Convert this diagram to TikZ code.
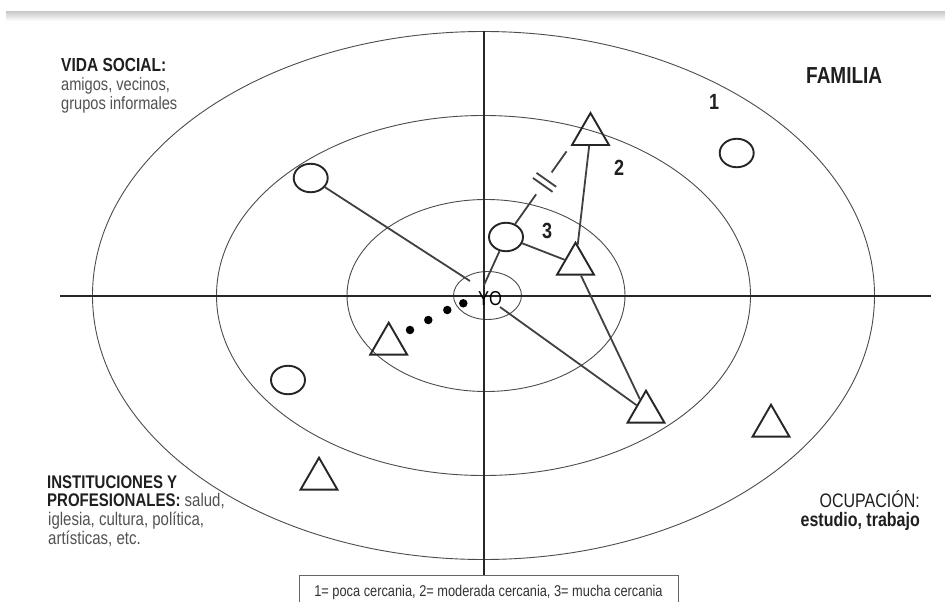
\documentclass[tikz,border=0pt]{standalone}
\usepackage{fontspec}
\usepackage{graphicx}
\setmainfont{Liberation Sans}
\usetikzlibrary{shapes.geometric,calc}
\newcommand\tall[1]{\scalebox{1}[1.22]{#1}}
\newcommand\fsz[1]{\fontsize{#1}{#1}\selectfont}
\begin{document}
\begin{tikzpicture}[x=1pt,y=-1pt,
  ring/.style={draw=black!70, line width=0.9pt},
  axis/.style={draw=black!85, line width=1.2pt},
  conn/.style={draw=black!75, line width=1.8pt},
  circ/.style={ellipse, draw=black!85, line width=1.9pt, minimum width=34pt, minimum height=28.5pt, inner sep=0pt},
  tri/.style={regular polygon, regular polygon sides=3, draw=black!85, line width=1.9pt, minimum size=42.6pt, inner sep=0pt},
  dotn/.style={circle, fill=black, inner sep=0pt, minimum size=8.5pt},
  lbl/.style={inner sep=0pt, text=black!88},
  lblr/.style={inner sep=0pt, text=black!68}]
\useasboundingbox (0,0) rectangle (945,602);
\fill[white] (0,0) rectangle (945,602);
\shade[top color=black!20, bottom color=white] (6,12) rectangle (945,21);

% rings
\draw[ring] (483.5,295.5) ellipse [x radius=391pt, y radius=264pt];
\draw[ring] (483.5,295.5) ellipse [x radius=267pt, y radius=180pt];
\draw[ring] (486,295.5) ellipse [x radius=139pt, y radius=96pt];
\draw[ring] (487.5,295.5) ellipse [x radius=34pt, y radius=24pt];

% legend
\node[draw=black!60, line width=0.8pt, minimum width=379pt, minimum height=34pt, inner sep=0pt, font=\fsz{12.8}, text=black!80] (legend) at (488.5,592)
  {\tall{1= poca cercania, 2= moderada cercania, 3= mucha cercania}};

% axes
\coordinate (atop) at (484,31);
\coordinate (aleft) at (60,296);
\coordinate (aright) at (931,296);
\draw[axis] (atop) -- (atop |- legend.north);
\draw[axis] (aleft) -- (aright);

% YO
\node[inner sep=0pt, text=black, anchor=base, font=\fsz{16.5}] (yo) at (490,305) {\tall{YO}};
\coordinate (yoA) at (470,281);
\coordinate (yoB) at (484,285);
\coordinate (yoC) at (500,307);

% circles
\node[circ] (c1) at (310.7,178) {};
\node[circ] (c2) at (506,237) {};
\node[circ] (c3) at (736.7,153) {};
\node[circ] (c4) at (288,380) {};

% triangles
\node[tri] (t1) at (590.5,134.3) {};
\node[tri] (t2) at (575.5,264) {};
\node[tri] (t3) at (388.7,344) {};
\node[tri] (t4) at (646,412) {};
\node[tri] (t5) at (771,426) {};
\node[tri] (t6) at (319,479) {};

% dots
\node[dotn] (d1) at (410,330) {};
\node[dotn] (d2) at (428.3,320) {};
\node[dotn] (d3) at (447.3,310) {};
\node[dotn] (d4) at (463.3,303.3) {};

% connectors
\draw[conn] (c1) -- (yoA);
\draw[conn] (c2) -- (yoB);
\draw[conn] (yoC) -- (t4);
\draw[conn] (t2) -- (t4);
\draw[conn] (t1) -- (t2);
\draw[conn] (c2) -- (t2);
\coordinate (dbA) at (c2.55);
\coordinate (dbB) at (t1.corner 2);
\draw[conn] (dbA) -- ($(dbA)!0.38!(dbB)$);
\draw[conn] ($(dbA)!0.66!(dbB)$) -- ($(dbA)!0.93!(dbB)$);
\coordinate (bar1) at ($(dbA)!0.50!(dbB)$);
\coordinate (bar2) at ($(dbA)!0.565!(dbB)$);
\draw[conn] ($(bar1)!12pt!90:(dbB)$) -- ($(bar1)!12pt!-90:(dbB)$);
\draw[conn] ($(bar2)!12pt!90:(dbB)$) -- ($(bar2)!12pt!-90:(dbB)$);

% numbers
\node[lbl, anchor=base, font=\fsz{18}\bfseries] (n1) at (714,110) {\tall{1}};
\node[lbl, anchor=base, font=\fsz{18}\bfseries] (n2) at (619,175) {\tall{2}};
\node[lbl, anchor=base, font=\fsz{18}\bfseries] (n3) at (547,238) {\tall{3}};

% quadrant labels
\node[lbl, anchor=base west, font=\fsz{19}\bfseries] (fam) at (806,84) {\tall{FAMILIA}};

\node[lbl, anchor=base west, font=\fsz{15.5}\bfseries] (vs1) at (61,71) {\tall{VIDA SOCIAL:}};
\node[lblr, anchor=base west, font=\fsz{14.6}] (vs2) at (61,90) {\tall{amigos, vecinos,}};
\node[lblr, anchor=base west, font=\fsz{14.6}] (vs3) at (61,109) {\tall{grupos informales}};

\node[lbl, anchor=base west, font=\fsz{15}\bfseries] (in1) at (47,488) {\tall{INSTITUCIONES Y}};
\node[lblr, anchor=base west, font=\fsz{15}] (in2) at (47,506.7) {\tall{\textcolor{black!88}{\bfseries PROFESIONALES:} salud,}};
\node[lblr, anchor=base west, font=\fsz{15}] (in3) at (48,525.4) {\tall{iglesia, cultura, política,}};
\node[lblr, anchor=base west, font=\fsz{15}] (in4) at (48,544) {\tall{artísticas, etc.}};

\node[lbl, anchor=base east, font=\fsz{16}] (oc1) at (920,507) {\tall{OCUPACIÓN:}};
\node[lbl, anchor=base east, font=\fsz{16}\bfseries] (oc2) at (920,526.5) {\tall{estudio, trabajo}};
\end{tikzpicture}
\end{document}
